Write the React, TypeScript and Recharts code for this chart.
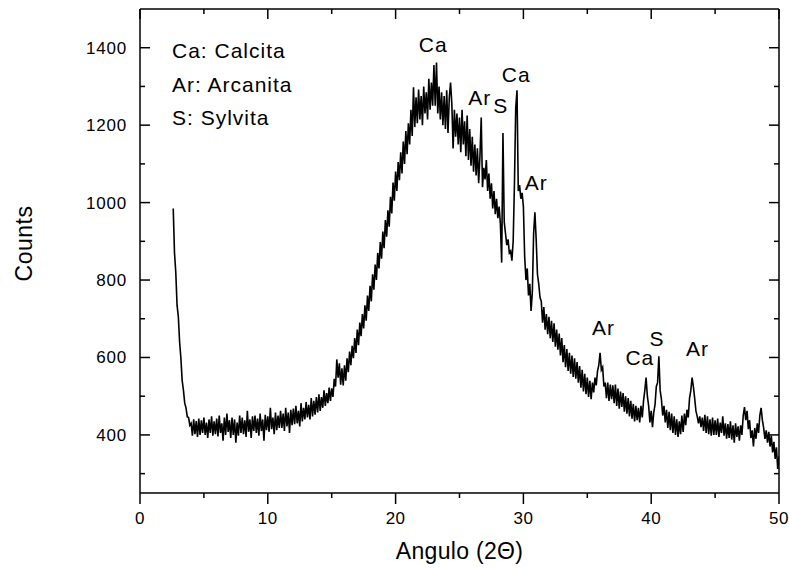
import React from 'react';
import { LineChart, Line, XAxis, YAxis, ReferenceDot } from 'recharts';

// Diffractogram: counts sampled every 0.1° (2θ) from 2.6° to 50.0°
const angleStart = 2.6;
const angleStep = 0.1;
const counts = [
  // 2.6–2.9
  985, 870, 820, 735,
  // 3
  705, 640, 598, 540, 515, 482, 470, 447, 445, 425,
  // 4
  430, 398, 440, 402, 436, 395, 442, 400, 438, 405,
  // 5
  445, 400, 432, 392, 440, 405, 448, 398, 435, 402,
  // 6
  442, 396, 450, 405, 430, 385, 445, 400, 455, 408,
  // 7
  438, 392, 445, 400, 440, 380, 432, 398, 450, 405,
  // 8
  445, 402, 438, 395, 462, 408, 440, 392, 448, 410,
  // 9
  450, 405, 442, 398, 455, 410, 440, 385, 452, 412,
  // 10
  448, 408, 470, 415, 445, 402, 458, 412, 450, 418,
  // 11
  462, 418, 455, 410, 470, 422, 458, 405, 465, 425,
  // 12
  468, 428, 475, 430, 462, 422, 482, 435, 470, 440,
  // 13
  485, 445, 478, 440, 495, 448, 488, 452, 498, 458,
  // 14
  505, 462, 498, 470, 515, 475, 508, 482, 522, 488,
  // 15
  520, 498, 545, 525, 595, 548, 585, 530, 572, 528,
  // 16
  580, 540, 598, 562, 615, 580, 630, 598, 650, 612,
  // 17
  672, 632, 690, 655, 712, 675, 735, 695, 760, 720,
  // 18
  785, 745, 815, 775, 840, 800, 870, 830, 898, 855,
  // 19
  925, 882, 955, 912, 980, 938, 1015, 972, 1052, 1005,
  // 20
  1080, 1030, 1105, 1058, 1130, 1075, 1158, 1100, 1185, 1125,
  // 21
  1205, 1150, 1240, 1172, 1298, 1195, 1272, 1205, 1292, 1215,
  // 22
  1275, 1200, 1300, 1230, 1285, 1215, 1320, 1240, 1310, 1250,
  // 23
  1355, 1250, 1362, 1230, 1300, 1215, 1285, 1200, 1275, 1190,
  // 24
  1290, 1180, 1270, 1310, 1255, 1140, 1240, 1170, 1230, 1150,
  // 25
  1220, 1130, 1240, 1150, 1210, 1120, 1225, 1110, 1190, 1095,
  // 26
  1170, 1080, 1150, 1070, 1140, 1050, 1120, 1220, 1040, 1090,
  // 27
  1060, 1110, 1030, 1075, 1010, 1050, 985, 1030, 970, 1010,
  // 28
  960, 990, 945, 845, 1180, 950, 920, 890, 905, 870,
  // 29
  875, 850, 900, 1050, 1245, 1290, 1030, 1045, 1010, 1025,
  // 30
  990, 860, 800, 830, 760, 790, 720, 770, 920, 975,
  // 31
  905, 815, 790, 755, 745, 690, 730, 672, 712, 660,
  // 32
  705, 650, 695, 640, 688, 628, 672, 620, 662, 605,
  // 33
  650, 588, 632, 575, 622, 565, 612, 558, 605, 550,
  // 34
  598, 545, 588, 535, 578, 522, 568, 512, 558, 505,
  // 35
  548, 498, 540, 492, 535, 510, 548, 528, 565, 580,
  // 36
  612, 568, 575, 525, 535, 495, 535, 488, 530, 492,
  // 37
  528, 482, 530, 475, 520, 468, 512, 472, 508, 460,
  // 38
  500, 455, 495, 448, 488, 442, 480, 435, 475, 438,
  // 39
  470, 432, 475, 445, 488, 515, 548, 500, 475, 432,
  // 40
  462, 420, 458, 478, 525, 535, 603, 515, 492, 450,
  // 41
  475, 432, 465, 418, 460, 412, 455, 405, 448, 400,
  // 42
  440, 395, 435, 402, 450, 408, 455, 425, 465, 445,
  // 43
  495, 515, 548, 525, 495, 462, 448, 430, 448, 420,
  // 44
  445, 410, 452, 405, 448, 402, 440, 398, 445, 400,
  // 45
  438, 400, 442, 395, 432, 405, 448, 398, 430, 390,
  // 46
  428, 392, 435, 388, 425, 380, 430, 395, 422, 385,
  // 47
  425, 400, 450, 472, 438, 462, 415, 438, 392, 412,
  // 48
  370, 418, 390, 430, 405, 450, 470, 438, 418, 390,
  // 49
  412, 380, 408, 370, 398, 355, 382, 338, 368, 312,
  // 50
  345,
];

const xTicks = [0, 5, 10, 15, 20, 25, 30, 35, 40, 45, 50];
const yTicks = [300, 400, 500, 600, 700, 800, 900, 1000, 1100, 1200, 1300, 1400];
const xDomain = [0, 50];
const yDomain = [250, 1500];

const legendLines = ['Ca: Calcita', 'Ar: Arcanita', 'S: Sylvita'];

const peakLabels = ['Ca', 'Ar', 'S', 'Ca', 'Ar', 'Ar', 'Ca', 'S', 'Ar'];
const peakAngles = [22.94, 26.59, 28.23, 29.44, 31.01, 36.26, 39.11, 40.45, 43.62];
const peakCounts = [1407, 1271, 1251, 1330, 1052, 677, 599, 648, 622];

const xTitle = 'Angulo (2Θ)';
const yTitle = 'Counts';

const data = counts.map((c, i) => ({
  angle: Math.round((angleStart + i * angleStep) * 10) / 10,
  counts: c,
}));

const FONT = '"Liberation Sans", Arial, sans-serif';
const AX = '#000';

const LeftTick = (props: any) => {
  const { x, y, payload } = props;
  const major = payload.value % 200 === 0;
  return (
    <g>
      <line x1={x} y1={y} x2={x + (major ? 10 : 5)} y2={y} stroke={AX} strokeWidth={1.5} />
      {major && (
        <text x={x - 13} y={y + 6} textAnchor="end" fontSize={17} fill="#000" letterSpacing={0.8}>
          {payload.value}
        </text>
      )}
    </g>
  );
};

const RightTick = (props: any) => {
  const { x, y, payload } = props;
  const major = payload.value % 200 === 0;
  return <line x1={x} y1={y} x2={x - (major ? 10 : 5)} y2={y} stroke={AX} strokeWidth={1.5} />;
};

const BottomTick = (props: any) => {
  const { x, y, payload } = props;
  const major = payload.value % 10 === 0;
  return (
    <g>
      <line x1={x} y1={y} x2={x} y2={y + (major ? 11 : 5)} stroke={AX} strokeWidth={1.5} />
      {major && (
        <text x={x} y={y + 31} textAnchor="middle" fontSize={17} fill="#000" letterSpacing={0.5}>
          {payload.value}
        </text>
      )}
    </g>
  );
};

const TopTick = (props: any) => {
  const { x, y, payload } = props;
  const major = payload.value % 10 === 0;
  return <line x1={x} y1={y} x2={x} y2={y + (major ? 10 : 5)} stroke={AX} strokeWidth={1.5} />;
};

export default function App() {
  return (
    <div style={{ position: 'absolute', left: 0, top: 0, width: 789, height: 569, fontFamily: FONT, background: '#fff' }}>
      <LineChart width={789} height={569} data={data} margin={{ top: 8, right: 9, bottom: 0, left: 0 }}>
        <XAxis
          xAxisId="b"
          dataKey="angle"
          type="number"
          domain={xDomain}
          ticks={xTicks}
          interval={0}
          allowDataOverflow
          height={76}
          tickSize={0}
          tickMargin={0}
          tickLine={false}
          axisLine={{ stroke: AX, strokeWidth: 1.5 }}
          tick={(p: any) => <BottomTick {...p} />}
        />
        <XAxis
          xAxisId="t"
          orientation="top"
          dataKey="angle"
          type="number"
          domain={xDomain}
          ticks={xTicks}
          interval={0}
          allowDataOverflow
          height={1}
          tickSize={0}
          tickMargin={0}
          tickLine={false}
          axisLine={{ stroke: AX, strokeWidth: 1.5 }}
          tick={(p: any) => <TopTick {...p} />}
        />
        <YAxis
          yAxisId="l"
          type="number"
          domain={yDomain}
          ticks={yTicks}
          interval={0}
          allowDataOverflow
          width={140}
          tickSize={0}
          tickMargin={0}
          tickLine={false}
          axisLine={{ stroke: AX, strokeWidth: 1.5 }}
          tick={(p: any) => <LeftTick {...p} />}
        />
        <YAxis
          yAxisId="r"
          orientation="right"
          type="number"
          domain={yDomain}
          ticks={yTicks}
          interval={0}
          allowDataOverflow
          width={1}
          tickSize={0}
          tickMargin={0}
          tickLine={false}
          axisLine={{ stroke: AX, strokeWidth: 1.5 }}
          tick={(p: any) => <RightTick {...p} />}
        />
        <Line
          xAxisId="t"
          yAxisId="r"
          dataKey="counts"
          stroke="none"
          dot={false}
          activeDot={false}
          isAnimationActive={false}
        />
        <Line
          xAxisId="b"
          yAxisId="l"
          type="linear"
          dataKey="counts"
          stroke="#000"
          strokeWidth={1.6}
          dot={false}
          activeDot={false}
          isAnimationActive={false}
        />
        {peakLabels.map((t, i) => (
          <ReferenceDot
            key={i}
            xAxisId="b"
            yAxisId="l"
            x={peakAngles[i]}
            y={peakCounts[i]}
            r={0}
            fill="none"
            stroke="none"
            label={{ value: t, position: 'center', fontSize: 21, fill: '#000', letterSpacing: 1 }}
          />
        ))}
      </LineChart>
      <svg
        width={789}
        height={569}
        style={{ position: 'absolute', left: 0, top: 0, pointerEvents: 'none' }}
        fontFamily={FONT}
      >
        {legendLines.map((t, i) => (
          <text key={t} x={172} y={58 + i * 33.5} fontSize={21} letterSpacing={1} fill="#000">
            {t}
          </text>
        ))}
        <text x={459.5} y={559} textAnchor="middle" fontSize={23} letterSpacing={0.3} fill="#000">
          {xTitle}
        </text>
        <text
          transform="translate(31.5,243.5) rotate(-90)"
          x={0}
          y={0}
          textAnchor="middle"
          fontSize={23}
          letterSpacing={0.5}
          fill="#000"
        >
          {yTitle}
        </text>
      </svg>
    </div>
  );
}
